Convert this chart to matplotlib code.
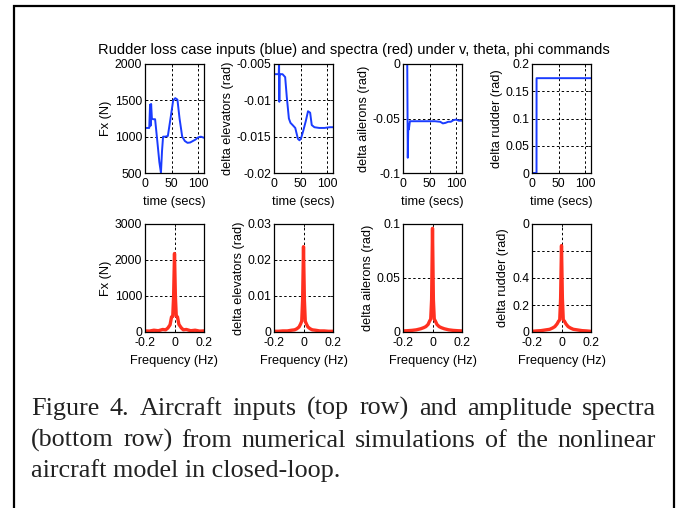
import numpy as np
import matplotlib.pyplot as plt
from matplotlib.patches import Rectangle

plt.rcParams['font.family'] = ['Liberation Sans', 'DejaVu Sans']
plt.rcParams['axes.unicode_minus'] = False

# ---- top row: inputs vs time ----
t_fx = [0, 8, 9.5, 10.5, 11.5, 13, 15, 19, 23, 27, 30, 32, 34, 38, 43, 48, 53, 57, 61, 65, 70, 75, 80, 85, 90, 95, 100, 105, 111]
fx = [1120, 1120, 1440, 1150, 1450, 1250, 1240, 1240, 950, 650, 500, 800, 1000, 1000, 1010, 1250, 1500, 1530, 1510, 1250, 1000, 940, 915, 920, 940, 960, 990, 1000, 985]

t_el = [0, 9, 9.5, 10, 10.5, 12, 16, 21, 24, 28, 31, 35, 40, 45, 48, 51, 55, 60, 64, 68, 71, 76, 85, 95, 105, 111]
el = [-0.0064, -0.0064, -0.0045, -0.0102, -0.0066, -0.0064, -0.0064, -0.0068, -0.0095, -0.0125, -0.0131, -0.0134, -0.0138, -0.0153, -0.0155, -0.0152, -0.0142, -0.0128, -0.0115, -0.0117, -0.0134, -0.0137, -0.0138, -0.0138, -0.0137, -0.0137]

t_ail = [0, 8, 9, 10, 11, 13, 20, 40, 60, 70, 75, 80, 85, 90, 95, 100, 105, 111]
ail = [0, 0, -0.086, -0.055, -0.06, -0.0525, -0.0525, -0.0525, -0.0525, -0.053, -0.0545, -0.054, -0.053, -0.053, -0.0515, -0.051, -0.052, -0.052]

t_rud = [0, 8.5, 8.6, 111]
rud = [0, 0, 0.174, 0.174]

# ---- bottom row: amplitude spectra ----
freq = [-0.2, -0.17, -0.14, -0.11, -0.08, -0.06, -0.045, -0.03, -0.02, -0.012, -0.006, 0,
        0.006, 0.012, 0.02, 0.03, 0.045, 0.06, 0.08, 0.11, 0.14, 0.17, 0.2]
spec_fx = [30, 25, 50, 35, 70, 60, 110, 200, 420, 430, 1000, 2180, 1000, 440, 420, 210, 120, 60, 70, 35, 50, 25, 30]
spec_el = [0.0002, 0.0002, 0.0003, 0.0003, 0.0005, 0.0006, 0.0009, 0.0014, 0.0022, 0.003, 0.009, 0.0237,
           0.009, 0.003, 0.0022, 0.0014, 0.0009, 0.0006, 0.0005, 0.0003, 0.0003, 0.0002, 0.0002]
spec_ail = [0.001, 0.0012, 0.0015, 0.002, 0.003, 0.004, 0.005, 0.007, 0.010, 0.012, 0.03, 0.096,
            0.03, 0.012, 0.010, 0.007, 0.005, 0.004, 0.003, 0.002, 0.0015, 0.0012, 0.001]
spec_rud = [0.005, 0.008, 0.01, 0.015, 0.02, 0.03, 0.04, 0.06, 0.08, 0.09, 0.25, 0.64,
            0.25, 0.09, 0.08, 0.06, 0.04, 0.03, 0.02, 0.015, 0.01, 0.008, 0.005]

top_data = [(t_fx, fx), (t_el, el), (t_ail, ail), (t_rud, rud)]
bot_data = [spec_fx, spec_el, spec_ail, spec_rud]
ylabels = ['Fx (N)', 'delta elevators (rad)', 'delta ailerons (rad)', 'delta rudder (rad)']
top_ylim = [(500, 2000), (-0.02, -0.005), (-0.1, 0), (0, 0.2)]
top_ticks = [[500, 1000, 1500, 2000], [-0.02, -0.015, -0.01, -0.005], [-0.1, -0.05, 0], [0, 0.05, 0.1, 0.15, 0.2]]
top_tlab = [['500', '1000', '1500', '2000'], ['-0.02', '-0.015', '-0.01', '-0.005'], ['-0.1', '-0.05', '0'],
            ['0', '0.05', '0.1', '0.15', '0.2']]
bot_ylim = [(0, 3000), (0, 0.03), (0, 0.1), (0, 0.8)]
bot_ticks = [[0, 1000, 2000, 3000], [0, 0.01, 0.02, 0.03], [0, 0.05, 0.1], [0, 0.2, 0.4, 0.6, 0.8]]
bot_tlab = [['0', '1000', '2000', '3000'], ['0', '0.01', '0.02', '0.03'], ['0', '0.05', '0.1'],
            ['0', '0.2', '0.4', '', '0']]

W, H = 681, 508
fig = plt.figure(figsize=(W / 100, H / 100), dpi=100)

lefts = [145, 274, 403, 532]
aw = 59


def style(ax):
    ax.tick_params(direction='in', top=True, right=True, length=2.5, width=0.6, labelsize=8.7, pad=2)
    ax.tick_params(axis='x', pad=3.5)
    ax.grid(True, color='black', linestyle=(0, (2.5, 2.5)), linewidth=0.7)
    for s in ax.spines.values():
        s.set_linewidth(0.9)


for i in range(4):
    ax = fig.add_axes([lefts[i] / W, (H - 173) / H, aw / W, 109 / H])
    ax.plot(top_data[i][0], top_data[i][1], color='#1a3cff', lw=1.4)
    ax.set_xlim(0, 111)
    ax.set_ylim(*top_ylim[i])
    ax.set_xticks([0, 50, 100])
    ax.set_xticklabels(['0', '50', '100'])
    ax.set_yticks(top_ticks[i])
    ax.set_yticklabels(top_tlab[i])
    ax.set_xlabel('time (secs)', fontsize=9.2, labelpad=4.5)
    ax.set_ylabel(ylabels[i], fontsize=9.2, labelpad=2)
    style(ax)

    bx = fig.add_axes([lefts[i] / W, (H - 332) / H, aw / W, 108 / H])
    bx.plot(freq, bot_data[i], color='#ff3020', lw=2.4)
    bx.set_xlim(-0.2, 0.2)
    bx.set_ylim(*bot_ylim[i])
    bx.set_xticks([-0.2, 0, 0.2])
    bx.set_xticklabels(['-0.2', '0', '0.2'])
    bx.set_yticks(bot_ticks[i])
    bx.set_yticklabels(bot_tlab[i])
    bx.set_xlabel('Frequency (Hz)', fontsize=9.2, labelpad=4.5)
    bx.set_ylabel(ylabels[i], fontsize=9.2, labelpad=2)
    style(bx)

fig.text(98 / W, 1 - 54 / H, 'Rudder loss case inputs (blue) and spectra (red) under v, theta, phi commands',
         fontsize=10.5, ha='left', va='baseline')

# caption, first two lines justified
cap_lines = ['Figure 4. Aircraft inputs (top row) and amplitude spectra',
             '(bottom row) from numerical simulations of the nonlinear',
             'aircraft model in closed-loop.']
cap_base = [415, 447, 477]
x0, x1 = 31, 656
r = fig.canvas.get_renderer()
for k, line in enumerate(cap_lines):
    y = 1 - cap_base[k] / H
    if k < 2:
        words = line.split(' ')
        tx = [fig.text(0, y, w, fontsize=18.8, family='Liberation Serif', va='baseline', color='#222222')
              for w in words]
        wd = [t.get_window_extent(r).width for t in tx]
        gap = (x1 - x0 - sum(wd)) / (len(words) - 1)
        x = x0
        for t, w in zip(tx, wd):
            t.set_x(x / W)
            x += w + gap
    else:
        fig.text(x0 / W, y, line, fontsize=18.8, family='Liberation Serif', va='baseline', color='#222222')

fig.patches.append(Rectangle((14 / W, -0.02), 660 / W, (H - 6) / H + 0.02, transform=fig.transFigure,
                             fill=False, lw=1.6, edgecolor='black'))

fig.savefig('out.png', dpi=100)
